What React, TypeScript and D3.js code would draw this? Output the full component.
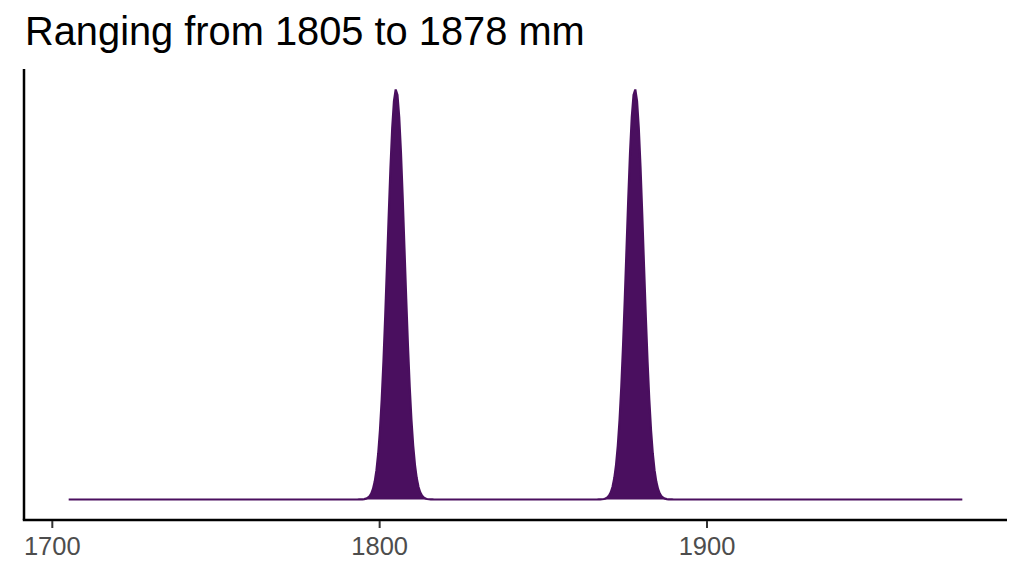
import React, { useRef, useEffect } from 'react';
import * as d3 from 'd3';

// observed lengths (mm) and the smoothing bandwidth of the density
const observations = [1805, 1878];
const bandwidth = 2.6;
const gridRange = [1705, 1978];
const xTicks = [1700, 1800, 1900];
const titleText = 'Ranging from 1805 to 1878 mm';

const width = 1024;
const height = 576;

const App: React.FC = () => {
  const svgRef = useRef<SVGSVGElement>(null);

  useEffect(() => {
    if (!svgRef.current) return;
    const root = d3.select(svgRef.current);
    root.selectAll('*').remove();

    const panel = { left: 24, right: 1007, top: 69, bottom: 520 };

    // Gaussian kernel density on a regular grid
    const n = 512;
    const [lo, hi] = gridRange;
    const kernel = (u: number) => Math.exp(-0.5 * u * u) / Math.sqrt(2 * Math.PI);
    const density = d3.range(n).map((i) => {
      const x = lo + (i * (hi - lo)) / (n - 1);
      const y = d3.mean(observations, (o) => kernel((x - o) / bandwidth) / bandwidth) as number;
      return { x, y };
    });

    const xSpan = hi - lo;
    const x = d3.scaleLinear()
      .domain([lo - xSpan * 0.05, hi + xSpan * 0.05])
      .range([panel.left, panel.right]);
    const yMax = d3.max(density, (d) => d.y) as number;
    const y = d3.scaleLinear()
      .domain([-yMax * 0.05, yMax * 1.05])
      .range([panel.bottom, panel.top]);

    const colour = '#4a0f5f';

    const area = d3.area<{ x: number; y: number }>()
      .x((d) => x(d.x))
      .y0(y(0))
      .y1((d) => y(d.y));

    const line = d3.line<{ x: number; y: number }>()
      .x((d) => x(d.x))
      .y((d) => y(d.y));

    root.append('path')
      .datum(density)
      .attr('d', area)
      .attr('fill', colour);

    root.append('path')
      .datum(density)
      .attr('d', line)
      .attr('fill', 'none')
      .attr('stroke', colour)
      .attr('stroke-width', 2.2);

    // axes
    root.append('line')
      .attr('x1', panel.left).attr('x2', panel.left)
      .attr('y1', panel.top).attr('y2', panel.bottom)
      .attr('stroke', 'black')
      .attr('stroke-width', 2.5);

    root.append('line')
      .attr('x1', panel.left - 1.2).attr('x2', panel.right)
      .attr('y1', panel.bottom).attr('y2', panel.bottom)
      .attr('stroke', 'black')
      .attr('stroke-width', 2.5);

    const ticks = root.append('g');
    ticks.selectAll('line')
      .data(xTicks)
      .enter()
      .append('line')
      .attr('x1', (d) => x(d)).attr('x2', (d) => x(d))
      .attr('y1', panel.bottom + 1).attr('y2', panel.bottom + 8)
      .attr('stroke', '#333333')
      .attr('stroke-width', 2);

    ticks.selectAll('text')
      .data(xTicks)
      .enter()
      .append('text')
      .attr('x', (d) => x(d))
      .attr('y', 555)
      .attr('text-anchor', 'middle')
      .style('font-family', '"Liberation Sans", Arial, sans-serif')
      .style('font-size', '25.5px')
      .attr('fill', '#4d4d4d')
      .text((d) => d);

    root.append('text')
      .attr('x', 25)
      .attr('y', 45)
      .style('font-family', '"Liberation Sans", Arial, sans-serif')
      .style('font-size', '39.8px')
      .attr('fill', 'black')
      .text(titleText);
  }, []);

  return (
    <svg
      ref={svgRef}
      width={width}
      height={height}
      style={{ position: 'absolute', left: 0, top: 0, background: 'white' }}
    />
  );
};

export default App;
